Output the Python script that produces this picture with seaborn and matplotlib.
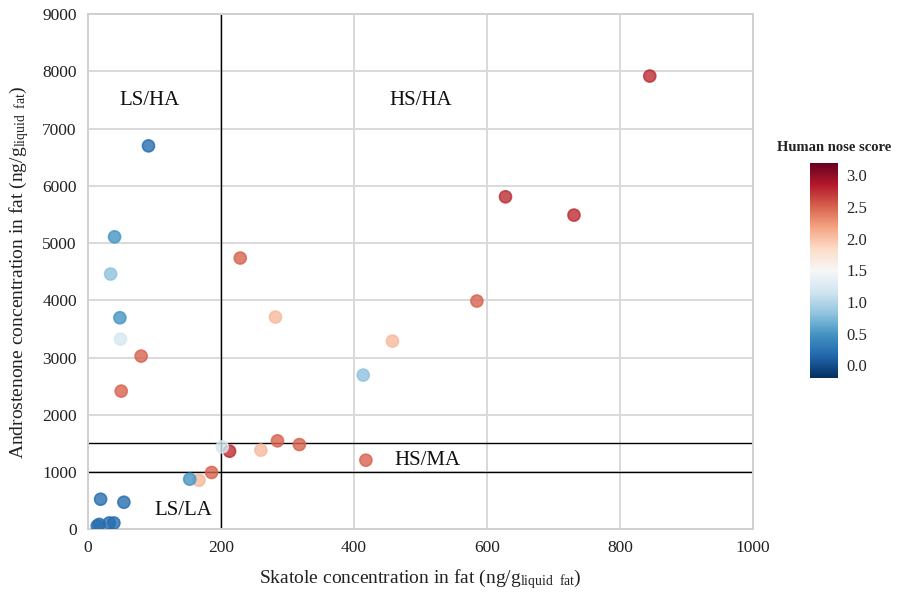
import numpy as np
import pandas as pd
import matplotlib
matplotlib.use("Agg")
import matplotlib.pyplot as plt
import seaborn as sns

# ── data ────────────────────────────────────────────────────
skatole = [845, 628, 731, 213,
           229, 80, 50, 285, 318, 186, 585, 418,
           282, 260, 167, 458,
           49, 202,
           34, 414,
           40, 48, 153,
           91, 19, 54, 14, 17, 32, 39]
androstenone = [7920, 5810, 5490, 1364,
                4740, 3026, 2414, 1545, 1480, 992, 3988, 1207,
                3708, 1382, 857, 3288,
                3323, 1440,
                4460, 2694,
                5110, 3696, 875,
                6700, 525, 472, 60, 85, 110, 110]
nose_score = [2.75, 2.75, 2.75, 2.75,
              2.5, 2.5, 2.5, 2.5, 2.5, 2.5, 2.5, 2.5,
              2.05, 2.05, 2.05, 2.05,
              1.2, 1.2,
              0.8, 0.8,
              0.5, 0.5, 0.5,
              0.2, 0.2, 0.2, 0.2, 0.2, 0.2, 0.2]

skatole_cut = 200
andro_cuts = [1000, 1500]
quadrants = ["LS/HA", "HS/HA", "HS/MA", "LS/LA"]
quad_pos = [(93, 7500), (500, 7500), (510, 1210), (143, 330)]
cbar_ticks = [0.0, 0.5, 1.0, 1.5, 2.0, 2.5, 3.0]

df = pd.DataFrame({"skatole": skatole, "andro": androstenone, "score": nose_score})

sns.set_style("white")
plt.rcParams["font.family"] = ["Liberation Serif", "DejaVu Serif"]
plt.rcParams["mathtext.fontset"] = "custom"
plt.rcParams["mathtext.rm"] = "Liberation Serif"
plt.rcParams["mathtext.it"] = "Liberation Serif"

fig = plt.figure(figsize=(9.07, 5.94), dpi=100)
ax = fig.add_axes([0.097, 0.109, 0.733, 0.867])

vmin, vmax = -0.2, 3.2
cmap = "RdBu_r"
sns.scatterplot(data=df, x="skatole", y="andro", hue="score", palette=cmap,
                hue_norm=(vmin, vmax), s=75, alpha=0.8, linewidth=1.2,
                edgecolor=None, legend=False, ax=ax, zorder=3)
# darker outline in the point's own colour
norm = plt.Normalize(vmin, vmax)
cm = plt.get_cmap(cmap)
ax.collections[0].set_edgecolor([cm(norm(v)) for v in nose_score])

ax.set_xlim(0, 1000)
ax.set_ylim(0, 9000)
ax.set_xticks(range(0, 1001, 200))
ax.set_yticks(range(0, 9001, 1000))
ax.grid(True, color="#d9d9d9", linewidth=1.4, zorder=0)
ax.set_axisbelow(True)
for sp in ax.spines.values():
    sp.set_color("#d0d0d0")
    sp.set_linewidth(1.4)
ax.tick_params(length=0, labelsize=12.5, colors="#222222", pad=8)

# quadrant separators
ax.axvline(skatole_cut, color="black", linewidth=1, zorder=2)
for c in andro_cuts:
    ax.axhline(c, color="black", linewidth=1, zorder=2)

for label, (qx, qy) in zip(quadrants, quad_pos):
    ax.text(qx, qy, label, fontsize=15, ha="center", va="center", color="#111111")

ax.set_xlabel(r"Skatole concentration in fat (ng/g$_{\mathrm{liquid\ \ fat}}$)",
              fontsize=14, color="#222222", labelpad=8)
ax.set_ylabel(r"Androstenone concentration in fat (ng/g$_{\mathrm{liquid\ \ fat}}$)",
              fontsize=14, color="#222222", labelpad=8)

# colour bar
cax = fig.add_axes([0.893, 0.364, 0.031, 0.362])
sm = plt.cm.ScalarMappable(norm=norm, cmap=cmap)
cb = fig.colorbar(sm, cax=cax, ticks=cbar_ticks)
cb.ax.set_yticklabels([f"{t:.1f}" for t in cbar_ticks])
cb.ax.tick_params(length=0, labelsize=12, pad=6)
cb.outline.set_visible(False)
fig.text(0.92, 0.752, "Human nose score", fontsize=10.5, fontweight="bold",
         ha="center", va="center", color="#222222")

fig.savefig("out.png", dpi=100)
